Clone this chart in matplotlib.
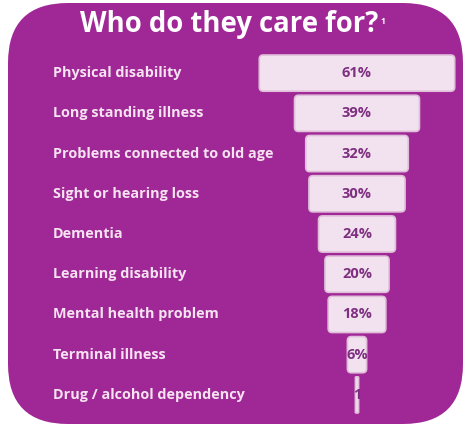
import numpy as np
import matplotlib.pyplot as plt
from matplotlib.patches import FancyBboxPatch
from matplotlib.transforms import blended_transform_factory

# data
categories = ["Physical disability", "Long standing illness", "Problems connected to old age",
              "Sight or hearing loss", "Dementia", "Learning disability",
              "Mental health problem", "Terminal illness", "Drug / alcohol dependency"]
values = [61, 39, 32, 30, 24, 20, 18, 6, 1]
value_labels = ["61%", "39%", "32%", "30%", "24%", "20%", "18%", "6%", "1"]

purple = "#A02896"
bar_fill = "#F2E2EF"
bar_edge = "#E0BEDA"
txt_purple = "#7E2F80"
label_col = "#F6E2F1"

fig = plt.figure(figsize=(4.71, 4.28), dpi=100)
fig.patch.set_facecolor("white")

# backdrop in pixel units
bg = fig.add_axes([0, 0, 1, 1])
bg.set_xlim(0, 471)
bg.set_ylim(428, 0)
bg.axis("off")
bg.add_patch(FancyBboxPatch((8, 3), 455, 421, boxstyle="round,pad=0,rounding_size=60",
                            fc=purple, ec="none"))
title = bg.text(80, 32, "Who do they care for?", color="white", fontsize=19.8, fontweight="bold",
                family="Open Sans", ha="left", va="baseline")
fig.canvas.draw()
ext = title.get_window_extent()
bg.text(ext.x1 + 2, 24, "1", color="white", fontsize=6, fontweight="bold", family="Open Sans",
        ha="left", va="baseline")

# bar axes: x from px 250 to 464, y from px 53 to 415
ax = fig.add_axes([250 / 471, 1 - 415 / 428, 214 / 471, 362 / 428])
ax.set_xlim(-33.4, 33.4)
ax.set_ylim(len(values) - 0.5, -0.5)
ax.axis("off")

y = np.arange(len(values))
vals = np.array(values)
bars = ax.barh(y, vals * 1.0, left=-vals / 2.0, height=0.9, color=bar_fill)

# swap plain rects for rounded ones (data geometry from the bars)
px_x = 214 / 66.8   # pixels per x unit
px_y = 362 / 9.0    # pixels per y unit
for b, lab in zip(bars, value_labels):
    b.set_visible(False)
    x0, y0 = b.get_x(), b.get_y()
    w, h = b.get_width(), b.get_height()
    r = min(4 / px_x, w / 2 * 0.5)
    p = FancyBboxPatch((x0 + r, y0 + r * px_x / px_y), w - 2 * r, h - 2 * r * px_x / px_y,
                       boxstyle="round,pad=%f,rounding_size=%f" % (r, r),
                       mutation_aspect=px_x / px_y,
                       fc=bar_fill, ec=bar_edge, lw=1.2)
    ax.add_patch(p)
    ax.text(0, y0 + h / 2, lab, color=txt_purple, fontsize=10.5,
            fontweight="bold", family="Open Sans", ha="center", va="center")

tr = blended_transform_factory(fig.transFigure, ax.transData)
for i, c in enumerate(categories):
    fig.text(53 / 471, i, c, transform=tr, color=label_col, fontsize=10.4, fontweight="bold",
             family="Open Sans", ha="left", va="center")

fig.savefig("out.png", dpi=100, facecolor="white")
